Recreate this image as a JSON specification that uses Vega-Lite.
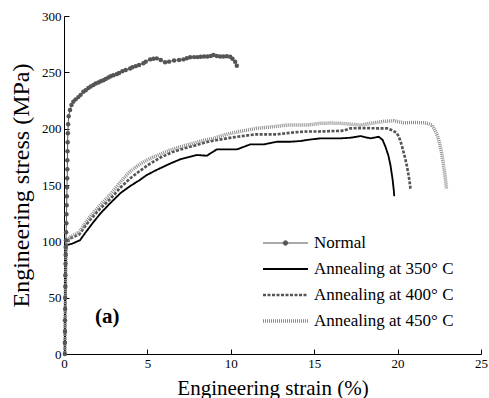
{
  "$schema": "https://vega.github.io/schema/vega-lite/v6.json",
  "autosize": {"type": "none"},
  "width": 417,
  "height": 338,
  "padding": {"left": 64, "top": 16, "right": 8, "bottom": 44},
  "background": "white",
  "config": {
    "view": {"stroke": null},
    "font": "Liberation Serif",
    "axis": {"grid": false, "domainColor": "black", "tickColor": "black", "labelColor": "black", "titleColor": "black", "labelFont": "Liberation Serif", "titleFont": "Liberation Serif", "labelFontSize": 13, "titleFontSize": 18, "titleFontWeight": "normal", "tickSize": -5, "domainWidth": 1},
    "legend": {"labelFont": "Liberation Serif"}
  },
  "datasets": {
    "curves": [
      {"series": "Normal", "strain": 0.05, "stress": 0},
      {"series": "Normal", "strain": 0.05, "stress": 10},
      {"series": "Normal", "strain": 0.06, "stress": 20},
      {"series": "Normal", "strain": 0.06, "stress": 30},
      {"series": "Normal", "strain": 0.07, "stress": 40},
      {"series": "Normal", "strain": 0.07, "stress": 50},
      {"series": "Normal", "strain": 0.08, "stress": 60},
      {"series": "Normal", "strain": 0.08, "stress": 70},
      {"series": "Normal", "strain": 0.09, "stress": 80},
      {"series": "Normal", "strain": 0.1, "stress": 88},
      {"series": "Normal", "strain": 0.1, "stress": 95},
      {"series": "Normal", "strain": 0.12, "stress": 101},
      {"series": "Normal", "strain": 0.13, "stress": 108},
      {"series": "Normal", "strain": 0.14, "stress": 116},
      {"series": "Normal", "strain": 0.15, "stress": 124},
      {"series": "Normal", "strain": 0.16, "stress": 132},
      {"series": "Normal", "strain": 0.17, "stress": 140},
      {"series": "Normal", "strain": 0.18, "stress": 148},
      {"series": "Normal", "strain": 0.19, "stress": 156},
      {"series": "Normal", "strain": 0.2, "stress": 164},
      {"series": "Normal", "strain": 0.2, "stress": 172},
      {"series": "Normal", "strain": 0.21, "stress": 180},
      {"series": "Normal", "strain": 0.22, "stress": 188},
      {"series": "Normal", "strain": 0.23, "stress": 196},
      {"series": "Normal", "strain": 0.25, "stress": 204},
      {"series": "Normal", "strain": 0.28, "stress": 211},
      {"series": "Normal", "strain": 0.36, "stress": 216.5},
      {"series": "Normal", "strain": 0.45, "stress": 221},
      {"series": "Normal", "strain": 0.56, "stress": 224},
      {"series": "Normal", "strain": 0.7, "stress": 226},
      {"series": "Normal", "strain": 0.86, "stress": 228},
      {"series": "Normal", "strain": 1.0, "stress": 230},
      {"series": "Normal", "strain": 1.16, "stress": 232.7},
      {"series": "Normal", "strain": 1.3, "stress": 234},
      {"series": "Normal", "strain": 1.46, "stress": 236},
      {"series": "Normal", "strain": 1.6, "stress": 237.5},
      {"series": "Normal", "strain": 1.76, "stress": 238.7},
      {"series": "Normal", "strain": 1.9, "stress": 240},
      {"series": "Normal", "strain": 2.06, "stress": 241},
      {"series": "Normal", "strain": 2.2, "stress": 242},
      {"series": "Normal", "strain": 2.36, "stress": 243},
      {"series": "Normal", "strain": 2.5, "stress": 244},
      {"series": "Normal", "strain": 2.66, "stress": 245.5},
      {"series": "Normal", "strain": 2.8, "stress": 246.5},
      {"series": "Normal", "strain": 2.96, "stress": 247.5},
      {"series": "Normal", "strain": 3.16, "stress": 248.4},
      {"series": "Normal", "strain": 3.3, "stress": 249.5},
      {"series": "Normal", "strain": 3.5, "stress": 251},
      {"series": "Normal", "strain": 3.7, "stress": 252},
      {"series": "Normal", "strain": 3.96, "stress": 253.5},
      {"series": "Normal", "strain": 4.1, "stress": 254.5},
      {"series": "Normal", "strain": 4.3, "stress": 255.5},
      {"series": "Normal", "strain": 4.5, "stress": 256.5},
      {"series": "Normal", "strain": 4.76, "stress": 258},
      {"series": "Normal", "strain": 4.9, "stress": 259.5},
      {"series": "Normal", "strain": 5.16, "stress": 261.5},
      {"series": "Normal", "strain": 5.36, "stress": 262},
      {"series": "Normal", "strain": 5.56, "stress": 262.4},
      {"series": "Normal", "strain": 5.8, "stress": 261},
      {"series": "Normal", "strain": 6.06, "stress": 259},
      {"series": "Normal", "strain": 6.3, "stress": 259.5},
      {"series": "Normal", "strain": 6.6, "stress": 260.5},
      {"series": "Normal", "strain": 6.9, "stress": 261},
      {"series": "Normal", "strain": 7.16, "stress": 261.5},
      {"series": "Normal", "strain": 7.36, "stress": 262.5},
      {"series": "Normal", "strain": 7.56, "stress": 263.3},
      {"series": "Normal", "strain": 7.8, "stress": 263.5},
      {"series": "Normal", "strain": 8.0, "stress": 263.5},
      {"series": "Normal", "strain": 8.2, "stress": 263.8},
      {"series": "Normal", "strain": 8.4, "stress": 264},
      {"series": "Normal", "strain": 8.6, "stress": 264},
      {"series": "Normal", "strain": 8.8, "stress": 264.5},
      {"series": "Normal", "strain": 8.96, "stress": 265.3},
      {"series": "Normal", "strain": 9.16, "stress": 264.5},
      {"series": "Normal", "strain": 9.36, "stress": 264},
      {"series": "Normal", "strain": 9.56, "stress": 264},
      {"series": "Normal", "strain": 9.76, "stress": 264.2},
      {"series": "Normal", "strain": 9.96, "stress": 263.8},
      {"series": "Normal", "strain": 10.1, "stress": 262},
      {"series": "Normal", "strain": 10.26, "stress": 259.4},
      {"series": "Normal", "strain": 10.36, "stress": 255.8},

      {"series": "Annealing at 350° C", "strain": 0.05, "stress": 0},
      {"series": "Annealing at 350° C", "strain": 0.08, "stress": 50},
      {"series": "Annealing at 350° C", "strain": 0.12, "stress": 90},
      {"series": "Annealing at 350° C", "strain": 0.16, "stress": 96.7},
      {"series": "Annealing at 350° C", "strain": 0.5, "stress": 98},
      {"series": "Annealing at 350° C", "strain": 0.96, "stress": 101},
      {"series": "Annealing at 350° C", "strain": 1.3, "stress": 108},
      {"series": "Annealing at 350° C", "strain": 1.76, "stress": 117},
      {"series": "Annealing at 350° C", "strain": 2.2, "stress": 125},
      {"series": "Annealing at 350° C", "strain": 2.76, "stress": 133.7},
      {"series": "Annealing at 350° C", "strain": 3.4, "stress": 143},
      {"series": "Annealing at 350° C", "strain": 3.96, "stress": 149},
      {"series": "Annealing at 350° C", "strain": 4.5, "stress": 154},
      {"series": "Annealing at 350° C", "strain": 4.96, "stress": 158.8},
      {"series": "Annealing at 350° C", "strain": 5.5, "stress": 163},
      {"series": "Annealing at 350° C", "strain": 6.36, "stress": 169},
      {"series": "Annealing at 350° C", "strain": 7.0, "stress": 173},
      {"series": "Annealing at 350° C", "strain": 7.96, "stress": 176.6},
      {"series": "Annealing at 350° C", "strain": 8.56, "stress": 176},
      {"series": "Annealing at 350° C", "strain": 9.16, "stress": 181.6},
      {"series": "Annealing at 350° C", "strain": 10.37, "stress": 181.6},
      {"series": "Annealing at 350° C", "strain": 11.16, "stress": 186},
      {"series": "Annealing at 350° C", "strain": 11.96, "stress": 186},
      {"series": "Annealing at 350° C", "strain": 12.77, "stress": 188.4},
      {"series": "Annealing at 350° C", "strain": 13.57, "stress": 188.4},
      {"series": "Annealing at 350° C", "strain": 14.17, "stress": 189},
      {"series": "Annealing at 350° C", "strain": 14.57, "stress": 190},
      {"series": "Annealing at 350° C", "strain": 15.37, "stress": 191.4},
      {"series": "Annealing at 350° C", "strain": 16.57, "stress": 191.4},
      {"series": "Annealing at 350° C", "strain": 17.2, "stress": 192},
      {"series": "Annealing at 350° C", "strain": 17.77, "stress": 193.4},
      {"series": "Annealing at 350° C", "strain": 18.37, "stress": 191.4},
      {"series": "Annealing at 350° C", "strain": 18.87, "stress": 192.8},
      {"series": "Annealing at 350° C", "strain": 19.1, "stress": 190},
      {"series": "Annealing at 350° C", "strain": 19.27, "stress": 184},
      {"series": "Annealing at 350° C", "strain": 19.45, "stress": 176},
      {"series": "Annealing at 350° C", "strain": 19.57, "stress": 167.7},
      {"series": "Annealing at 350° C", "strain": 19.7, "stress": 155},
      {"series": "Annealing at 350° C", "strain": 19.77, "stress": 145.5},
      {"series": "Annealing at 350° C", "strain": 19.8, "stress": 140},

      {"series": "Annealing at 400° C", "strain": 0.05, "stress": 0},
      {"series": "Annealing at 400° C", "strain": 0.08, "stress": 50},
      {"series": "Annealing at 400° C", "strain": 0.12, "stress": 95},
      {"series": "Annealing at 400° C", "strain": 0.2, "stress": 100},
      {"series": "Annealing at 400° C", "strain": 0.36, "stress": 102.6},
      {"series": "Annealing at 400° C", "strain": 0.9, "stress": 106},
      {"series": "Annealing at 400° C", "strain": 1.5, "stress": 118},
      {"series": "Annealing at 400° C", "strain": 2.16, "stress": 129},
      {"series": "Annealing at 400° C", "strain": 2.8, "stress": 138},
      {"series": "Annealing at 400° C", "strain": 3.4, "stress": 148},
      {"series": "Annealing at 400° C", "strain": 3.96, "stress": 155.8},
      {"series": "Annealing at 400° C", "strain": 4.5, "stress": 162},
      {"series": "Annealing at 400° C", "strain": 5.16, "stress": 169},
      {"series": "Annealing at 400° C", "strain": 5.8, "stress": 174.5},
      {"series": "Annealing at 400° C", "strain": 6.56, "stress": 179.6},
      {"series": "Annealing at 400° C", "strain": 7.2, "stress": 182.5},
      {"series": "Annealing at 400° C", "strain": 7.96, "stress": 185.5},
      {"series": "Annealing at 400° C", "strain": 8.5, "stress": 188},
      {"series": "Annealing at 400° C", "strain": 9.16, "stress": 189.9},
      {"series": "Annealing at 400° C", "strain": 9.8, "stress": 191.5},
      {"series": "Annealing at 400° C", "strain": 10.37, "stress": 192.8},
      {"series": "Annealing at 400° C", "strain": 11.0, "stress": 194},
      {"series": "Annealing at 400° C", "strain": 11.56, "stress": 195},
      {"series": "Annealing at 400° C", "strain": 12.2, "stress": 195},
      {"series": "Annealing at 400° C", "strain": 12.77, "stress": 195},
      {"series": "Annealing at 400° C", "strain": 13.4, "stress": 196},
      {"series": "Annealing at 400° C", "strain": 13.97, "stress": 197},
      {"series": "Annealing at 400° C", "strain": 14.57, "stress": 197.5},
      {"series": "Annealing at 400° C", "strain": 15.3, "stress": 197.5},
      {"series": "Annealing at 400° C", "strain": 16.0, "stress": 197.8},
      {"series": "Annealing at 400° C", "strain": 16.77, "stress": 198.2},
      {"series": "Annealing at 400° C", "strain": 17.17, "stress": 200.3},
      {"series": "Annealing at 400° C", "strain": 18.0, "stress": 200.5},
      {"series": "Annealing at 400° C", "strain": 18.8, "stress": 200.3},
      {"series": "Annealing at 400° C", "strain": 19.37, "stress": 200.3},
      {"series": "Annealing at 400° C", "strain": 19.7, "stress": 198.5},
      {"series": "Annealing at 400° C", "strain": 19.97, "stress": 195.8},
      {"series": "Annealing at 400° C", "strain": 20.15, "stress": 190},
      {"series": "Annealing at 400° C", "strain": 20.27, "stress": 184},
      {"series": "Annealing at 400° C", "strain": 20.45, "stress": 174},
      {"series": "Annealing at 400° C", "strain": 20.57, "stress": 166},
      {"series": "Annealing at 400° C", "strain": 20.7, "stress": 155},
      {"series": "Annealing at 400° C", "strain": 20.77, "stress": 147},
      {"series": "Annealing at 400° C", "strain": 20.8, "stress": 145.5},

      {"series": "Annealing at 450° C", "strain": 0.05, "stress": 0},
      {"series": "Annealing at 450° C", "strain": 0.08, "stress": 50},
      {"series": "Annealing at 450° C", "strain": 0.12, "stress": 97},
      {"series": "Annealing at 450° C", "strain": 0.2, "stress": 101},
      {"series": "Annealing at 450° C", "strain": 0.4, "stress": 104},
      {"series": "Annealing at 450° C", "strain": 0.9, "stress": 108},
      {"series": "Annealing at 450° C", "strain": 1.5, "stress": 121},
      {"series": "Annealing at 450° C", "strain": 2.16, "stress": 132},
      {"series": "Annealing at 450° C", "strain": 2.8, "stress": 142},
      {"series": "Annealing at 450° C", "strain": 3.4, "stress": 153},
      {"series": "Annealing at 450° C", "strain": 3.96, "stress": 162},
      {"series": "Annealing at 450° C", "strain": 4.5, "stress": 168},
      {"series": "Annealing at 450° C", "strain": 5.16, "stress": 173.6},
      {"series": "Annealing at 450° C", "strain": 5.8, "stress": 177.5},
      {"series": "Annealing at 450° C", "strain": 6.36, "stress": 181},
      {"series": "Annealing at 450° C", "strain": 7.0, "stress": 184},
      {"series": "Annealing at 450° C", "strain": 7.76, "stress": 187},
      {"series": "Annealing at 450° C", "strain": 8.3, "stress": 189.5},
      {"series": "Annealing at 450° C", "strain": 8.96, "stress": 191.4},
      {"series": "Annealing at 450° C", "strain": 9.4, "stress": 193.5},
      {"series": "Annealing at 450° C", "strain": 9.96, "stress": 195.8},
      {"series": "Annealing at 450° C", "strain": 10.7, "stress": 198},
      {"series": "Annealing at 450° C", "strain": 11.56, "stress": 200.3},
      {"series": "Annealing at 450° C", "strain": 12.4, "stress": 201.5},
      {"series": "Annealing at 450° C", "strain": 13.37, "stress": 203.2},
      {"series": "Annealing at 450° C", "strain": 14.0, "stress": 203.2},
      {"series": "Annealing at 450° C", "strain": 14.57, "stress": 203.2},
      {"series": "Annealing at 450° C", "strain": 15.37, "stress": 204.7},
      {"series": "Annealing at 450° C", "strain": 16.0, "stress": 205},
      {"series": "Annealing at 450° C", "strain": 16.57, "stress": 204.7},
      {"series": "Annealing at 450° C", "strain": 17.2, "stress": 204},
      {"series": "Annealing at 450° C", "strain": 17.77, "stress": 203.2},
      {"series": "Annealing at 450° C", "strain": 18.5, "stress": 205},
      {"series": "Annealing at 450° C", "strain": 19.2, "stress": 206.5},
      {"series": "Annealing at 450° C", "strain": 19.77, "stress": 207},
      {"series": "Annealing at 450° C", "strain": 20.37, "stress": 205.2},
      {"series": "Annealing at 450° C", "strain": 21.0, "stress": 205.5},
      {"series": "Annealing at 450° C", "strain": 21.57, "stress": 205.2},
      {"series": "Annealing at 450° C", "strain": 21.85, "stress": 204.5},
      {"series": "Annealing at 450° C", "strain": 22.07, "stress": 203.2},
      {"series": "Annealing at 450° C", "strain": 22.3, "stress": 197},
      {"series": "Annealing at 450° C", "strain": 22.47, "stress": 189.9},
      {"series": "Annealing at 450° C", "strain": 22.65, "stress": 178},
      {"series": "Annealing at 450° C", "strain": 22.77, "stress": 166},
      {"series": "Annealing at 450° C", "strain": 22.87, "stress": 155},
      {"series": "Annealing at 450° C", "strain": 22.93, "stress": 147}
    ]
  },
  "layer": [
    {
      "data": {"name": "curves"},
      "mark": {"type": "line", "clip": false, "strokeCap": "butt"},
      "encoding": {
        "x": {"field": "strain", "type": "quantitative", "scale": {"domain": [0, 25], "nice": false},
              "axis": {"title": "Engineering strain (%)", "values": [0, 5, 10, 15, 20, 25], "labelPadding": 8, "titlePadding": 7, "titleFontSize": 21, "labelFlush": false, "labelFont": "Liberation Serif", "titleFont": "Liberation Serif"}},
        "y": {"field": "stress", "type": "quantitative", "scale": {"domain": [0, 300], "nice": false},
              "axis": {"title": "Engineering stress (MPa)", "values": [0, 50, 100, 150, 200, 250, 300], "labelPadding": 8, "titlePadding": 8, "titleFontSize": 24, "labelFont": "Liberation Serif", "titleFont": "Liberation Serif"}},
        "detail": {"field": "series"},
        "order": {"field": "strain", "type": "quantitative"},
        "color": {
          "field": "series", "type": "nominal",
          "scale": {"domain": ["Normal", "Annealing at 350° C", "Annealing at 400° C", "Annealing at 450° C"],
                    "range": ["#555555", "#000000", "#555555", "#8c8c8c"]},
          "legend": {
            "title": null, "orient": "none", "legendX": 197, "legendY": 214,
            "symbolType": "stroke", "symbolSize": 2025, "clipHeight": 26, "rowPadding": 0,
            "labelFont": "Liberation Serif", "labelFontSize": 17, "labelColor": "black", "labelOffset": 4, "labelLimit": 300,
            "symbolOpacity": 1,
            "encode": {
              "symbols": {
                "update": {
                  "shape": {"signal": "datum.value === 'Normal' ? 'M-1,0H1M-0.1,0A0.1,0.1 0 1,0 0.1,0A0.1,0.1 0 1,0 -0.1,0Z' : 'stroke'"},
                  "fill": {"signal": "datum.value === 'Normal' ? '#555555' : 'transparent'"},
                  "strokeWidth": {"signal": "datum.value === 'Normal' ? 1 : (datum.value === 'Annealing at 350° C' ? 3.5 : 3)"},
                  "strokeDash": {"signal": "datum.value === 'Annealing at 400° C' ? [3, 1.5] : (datum.value === 'Annealing at 450° C' ? [1, 1] : [1, 0])"}
                }
              }
            }
          }
        },
        "strokeDash": {
          "field": "series", "type": "nominal",
          "scale": {"domain": ["Normal", "Annealing at 350° C", "Annealing at 400° C", "Annealing at 450° C"],
                    "range": [[1, 0], [1, 0], [3, 1.5], [1, 1]]},
          "legend": null
        },
        "strokeWidth": {
          "field": "series", "type": "nominal",
          "scale": {"domain": ["Normal", "Annealing at 350° C", "Annealing at 400° C", "Annealing at 450° C"],
                    "range": [1, 3.5, 3, 3]},
          "legend": null
        }
      }
    },
    {
      "data": {"name": "curves"},
      "transform": [{"filter": "datum.series === 'Normal'"}],
      "mark": {"type": "point", "filled": true, "size": 20, "color": "#555555", "opacity": 1, "clip": false},
      "encoding": {
        "x": {"field": "strain", "type": "quantitative"},
        "y": {"field": "stress", "type": "quantitative"}
      }
    },
    {
      "data": {"values": [{"label": "(a)"}]},
      "mark": {"type": "text", "font": "Liberation Serif", "fontSize": 21, "fontWeight": "bold", "color": "black", "align": "center", "baseline": "middle"},
      "encoding": {
        "text": {"field": "label"},
        "x": {"datum": 2.6},
        "y": {"datum": 33}
      }
    }
  ]
}
